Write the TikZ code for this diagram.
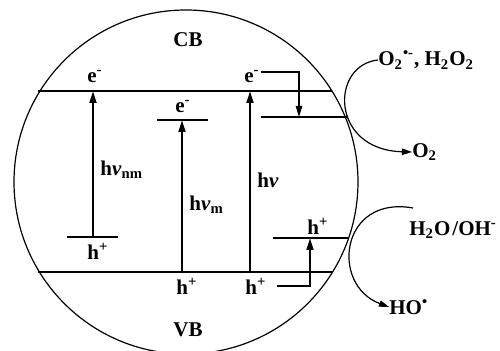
\documentclass[tikz,border=0pt]{standalone}
\usepackage{fontspec}
\setmainfont{Liberation Serif}
\usetikzlibrary{arrows.meta}

\begin{document}
\begin{tikzpicture}[x=0.5pt,y=-0.5pt,
    lvl/.style={line width=0.7pt},
    ex/.style={-{Triangle[length=6pt,width=3.4pt]},line width=1.1pt},
    hop/.style={-{Triangle[length=5.5pt,width=3.2pt]},line width=0.7pt},
    rx/.style={-{Triangle[length=5pt,width=3.2pt]},line width=0.6pt},
    lb/.style={font=\fontsize{10.5}{12}\selectfont\bfseries,inner sep=0pt},
    >=Triangle
  ]
    \useasboundingbox (0,0) rectangle (500,351);

    %% Particle ───────────────────────────────
    \draw[line width=0.6pt] (186,182) circle [radius=86pt];
    \node[lb] (CB) at (188,40)  {CB};
    \node[lb] (VB) at (188,330) {VB};

    %% Band edges ─────────────────────────────
    \coordinate (cbL) at (38,91);   \coordinate (cbR) at (332,91);
    \coordinate (vbL) at (38,272);  \coordinate (vbR) at (333,272);
    \draw[lvl] (cbL) -- (cbR);
    \draw[lvl] (vbL) -- (vbR);

    %% Non-metal excitation ───────────────────
    \coordinate (nmLo) at (93,237);
    \coordinate (nmHi) at (93,91);
    \draw[lvl] (67,237) -- (118,237);
    \draw[ex] (nmLo) -- (nmHi);
    \node[lb] (eNM) at (95,77)  {e\textsuperscript{-}};
    \node[lb] (hNM) at (98,251) {h\textsuperscript{+}};
    \node[lb,anchor=west] (nuNM) at (100,170) {h\textit{ν}\textsubscript{nm}};

    %% Metal excitation ───────────────────────
    \coordinate (mLo) at (182,272);
    \coordinate (mHi) at (182,120);
    \draw[lvl] (157,120) -- (208,120);
    \draw[ex] (mLo) -- (mHi);
    \node[lb] (eM) at (183,107) {e\textsuperscript{-}};
    \node[lb] (hM) at (187,286) {h\textsuperscript{+}};
    \node[lb,anchor=west] (nuM) at (189,205) {h\textit{ν}\textsubscript{m}};

    %% Band gap excitation ────────────────────
    \coordinate (gLo) at (250,272);
    \coordinate (gHi) at (250,91);
    \draw[ex] (gLo) -- (gHi);
    \node[lb] (eG) at (252,77)  {e\textsuperscript{-}};
    \node[lb] (hG) at (256,286) {h\textsuperscript{+}};
    \node[lb,anchor=west] (nuG) at (257,180) {h\textit{ν}};

    %% Trap levels ────────────────────────────
    \coordinate (trE) at (261,117);  \coordinate (trEr) at (347,117);
    \coordinate (trH) at (273,238);  \coordinate (trHr) at (348,238);
    \draw[lvl] (trE) -- (trEr);
    \draw[lvl] (trH) -- (trHr);
    \node[lb] (hT) at (318,226) {h\textsuperscript{+}};
    \draw[hop] (eG.east) ++(1,-5) -| (299,117);
    \draw[ex] (hG.east) ++(10,0) -| (310,238);

    %% Surface reactions ──────────────────────
    \node[lb,anchor=west] (sup)  at (378,60)  {O\textsubscript{2}\textsuperscript{•-}, H\textsubscript{2}O\textsubscript{2}};
    \node[lb,anchor=west] (oxy)  at (412,152) {O\textsubscript{2}};
    \node[lb,anchor=west] (wat)  at (409,230) {H\textsubscript{2}O\kern1pt/OH\textsuperscript{-}};
    \node[lb,anchor=west] (hyd)  at (389,307) {HO\textsuperscript{•}};
    \draw[rx] (sup.west) .. controls (330,65) and (330,150) .. (oxy.west);
    \draw[rx] (wat.west) ++(4,-22) .. controls (340,195) and (330,285) .. (hyd.west);

\end{tikzpicture}
\end{document}
